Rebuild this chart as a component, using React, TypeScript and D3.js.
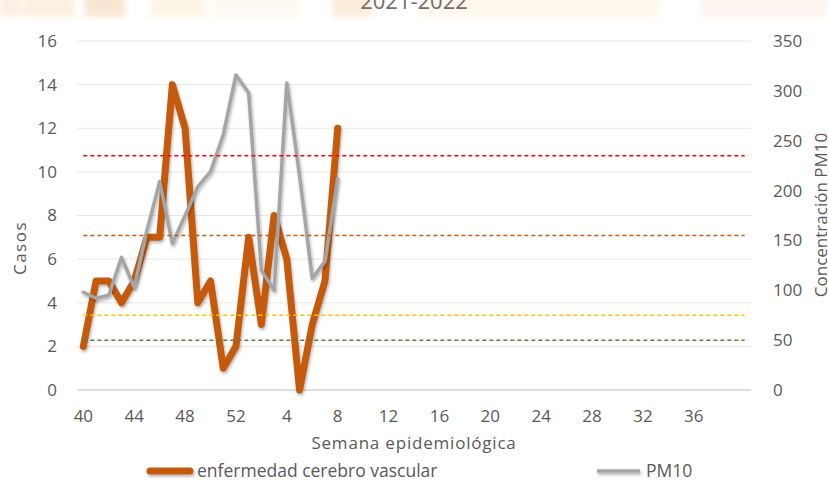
import React, { useRef, useEffect } from "react";
import * as d3 from "d3";

// semanas epidemiológicas 40/2021 .. 40/2022
const weeks = [40, 41, 42, 43, 44, 45, 46, 47, 48, 49, 50, 51, 52,
    1, 2, 3, 4, 5, 6, 7, 8, 9, 10, 11, 12, 13, 14, 15, 16, 17, 18, 19, 20,
    21, 22, 23, 24, 25, 26, 27, 28, 29, 30, 31, 32, 33, 34, 35, 36, 37, 38, 39, 40];
const casos = [2, 5, 5, 4, 5, 7, 7, 14, 12, 4, 5, 1, 2, 7, 3, 8, 6, 0, 3, 5, 12];
const pm10 = [98, 92, 95, 133, 103, 160, 209, 147, 175, 204, 219, 256, 316, 298, 120, 100, 308, 215, 112, 129, 212];
const thresholdValues = [50, 75, 155, 235];
const thresholdColors = ["#548235", "#FFC000", "#C55A11", "#FF0000"];
const leftTicks = [0, 2, 4, 6, 8, 10, 12, 14, 16];
const rightTicks = [0, 50, 100, 150, 200, 250, 300, 350];

export default function App() {
    const ref = useRef<SVGSVGElement | null>(null);

    useEffect(() => {
        if (!ref.current) return;
        const width = 828, height = 484;
        const margin = { top: 41, right: 77, bottom: 94, left: 77 };
        const font = "'Open Sans', sans-serif";
        const textColor = "#595959";
        const fs = 17;

        const svg = d3.select(ref.current);
        svg.selectAll("*").remove();
        svg.attr("width", width).attr("height", height).attr("viewBox", [0, 0, width, height].join(" "));

        const defs = svg.append("defs");
        defs.append("filter").attr("id", "shadow").attr("filterUnits", "userSpaceOnUse")
            .attr("x", 0).attr("y", 0).attr("width", width).attr("height", height)
            .append("feDropShadow").attr("dx", 1).attr("dy", 2).attr("stdDeviation", 1.5)
            .attr("flood-color", "#000").attr("flood-opacity", 0.3);
        defs.append("filter").attr("id", "blur").attr("filterUnits", "userSpaceOnUse")
            .attr("x", 0).attr("y", -10).attr("width", width).attr("height", 40)
            .append("feGaussianBlur").attr("stdDeviation", 3);

        svg.append("rect").attr("width", width).attr("height", height).attr("fill", "#fff");

        // faded banner at the top
        const banner = [[0, 20, "#fcefe4"], [22, 75, "#fcf1e0"], [85, 125, "#f9e5d3"], [150, 205, "#fdf4e6"],
            [212, 300, "#fef9f2"], [332, 372, "#fbecdc"], [420, 660, "#fef8ec"], [700, 828, "#fdf6ef"]] as [number, number, string][];
        svg.append("g").attr("filter", "url(#blur)").selectAll("rect").data(banner).join("rect")
            .attr("x", d => d[0]).attr("y", -5).attr("width", d => d[1] - d[0]).attr("height", 22)
            .attr("fill", d => d[2]);

        svg.append("text").attr("x", 414).attr("y", 9).attr("text-anchor", "middle")
            .attr("font-family", font).attr("font-size", 22).attr("fill", "#6f6f6f").text("2021-2022");

        const x = d3.scaleBand<number>().domain(d3.range(weeks.length))
            .range([margin.left, width - margin.right]);
        const cx = (i: number) => (x(i) as number) + x.bandwidth() / 2;
        const yL = d3.scaleLinear().domain([0, 16]).range([height - margin.bottom, margin.top]);
        const yR = d3.scaleLinear().domain([0, 350]).range([height - margin.bottom, margin.top]);

        // gridlines
        svg.append("g").selectAll("line").data(leftTicks).join("line")
            .attr("x1", margin.left).attr("x2", width - margin.right)
            .attr("y1", d => yL(d)).attr("y2", d => yL(d))
            .attr("stroke", d => d === 0 ? "#d4d4d4" : "#e8e8e8").attr("stroke-width", d => d === 0 ? 1.5 : 1);

        // left axis labels
        svg.append("g").selectAll("text").data(leftTicks).join("text")
            .attr("x", 57).attr("y", d => yL(d)).attr("dy", "0.35em").attr("text-anchor", "end")
            .attr("font-family", font).attr("font-size", fs).attr("fill", textColor).text(d => d);

        // right axis labels
        svg.append("g").selectAll("text").data(rightTicks).join("text")
            .attr("x", 773).attr("y", d => yR(d)).attr("dy", "0.35em").attr("text-anchor", "start")
            .attr("font-family", font).attr("font-size", fs).attr("fill", textColor).text(d => d);

        // x axis labels
        const labelIdx = d3.range(weeks.length).filter(i => i % 4 === 0 && i < weeks.length - 1);
        svg.append("g").selectAll("text").data(labelIdx).join("text")
            .attr("x", d => cx(d)).attr("y", 416).attr("dy", "0.35em").attr("text-anchor", "middle")
            .attr("font-family", font).attr("font-size", fs).attr("fill", textColor).text(d => weeks[d]);

        // axis titles
        svg.append("text").attr("x", 414).attr("y", 443).attr("dy", "0.35em").attr("text-anchor", "middle")
            .attr("letter-spacing", 0.8)
            .attr("font-family", font).attr("font-size", fs).attr("fill", textColor).text("Semana epidemiológica");
        svg.append("text").attr("transform", "translate(20,248) rotate(-90)").attr("dy", "0.35em")
            .attr("text-anchor", "middle").attr("letter-spacing", 1.5)
            .attr("font-family", font).attr("font-size", fs).attr("fill", textColor).text("Casos");
        svg.append("text").attr("transform", "translate(821,215) rotate(-90)").attr("dy", "0.35em")
            .attr("text-anchor", "middle")
            .attr("font-family", font).attr("font-size", fs).attr("fill", textColor).text("Concentración PM10");

        // series
        const lineL = d3.line<number>().x((d, i) => cx(i)).y(d => yL(d));
        const lineR = d3.line<number>().x((d, i) => cx(i)).y(d => yR(d));

        svg.append("path").datum(casos).attr("d", lineL).attr("fill", "none")
            .attr("stroke", "#C55A11").attr("stroke-width", 7)
            .attr("stroke-linejoin", "round").attr("stroke-linecap", "round").attr("filter", "url(#shadow)");
        svg.append("path").datum(pm10).attr("d", lineR).attr("fill", "none")
            .attr("stroke", "#A5A5A5").attr("stroke-width", 3.5)
            .attr("stroke-linejoin", "round").attr("stroke-linecap", "round").attr("filter", "url(#shadow)");

        // umbrales PM10
        svg.append("g").selectAll("line").data(thresholdValues).join("line")
            .attr("x1", cx(0)).attr("x2", cx(weeks.length - 1))
            .attr("y1", d => yR(d)).attr("y2", d => yR(d))
            .attr("stroke", (d, i) => thresholdColors[i]).attr("stroke-width", 1.5)
            .attr("stroke-dasharray", "4,3");

        // legend
        const lg = svg.append("g").attr("font-family", font).attr("font-size", 17.5).attr("fill", textColor);
        lg.append("line").attr("x1", 150).attr("x2", 190).attr("y1", 471).attr("y2", 471)
            .attr("stroke", "#C55A11").attr("stroke-width", 7).attr("stroke-linecap", "round").attr("filter", "url(#shadow)");
        lg.append("text").attr("x", 197).attr("y", 471).attr("dy", "0.35em").text("enfermedad cerebro vascular");
        lg.append("line").attr("x1", 597).attr("x2", 640).attr("y1", 471).attr("y2", 471)
            .attr("stroke", "#A5A5A5").attr("stroke-width", 3.5).attr("filter", "url(#shadow)");
        lg.append("text").attr("x", 646).attr("y", 471).attr("dy", "0.35em").text("PM10");
    }, []);

    return (
        <svg ref={ref} style={{ position: "absolute", left: 0, top: 0, display: "block" }} />
    );
}
